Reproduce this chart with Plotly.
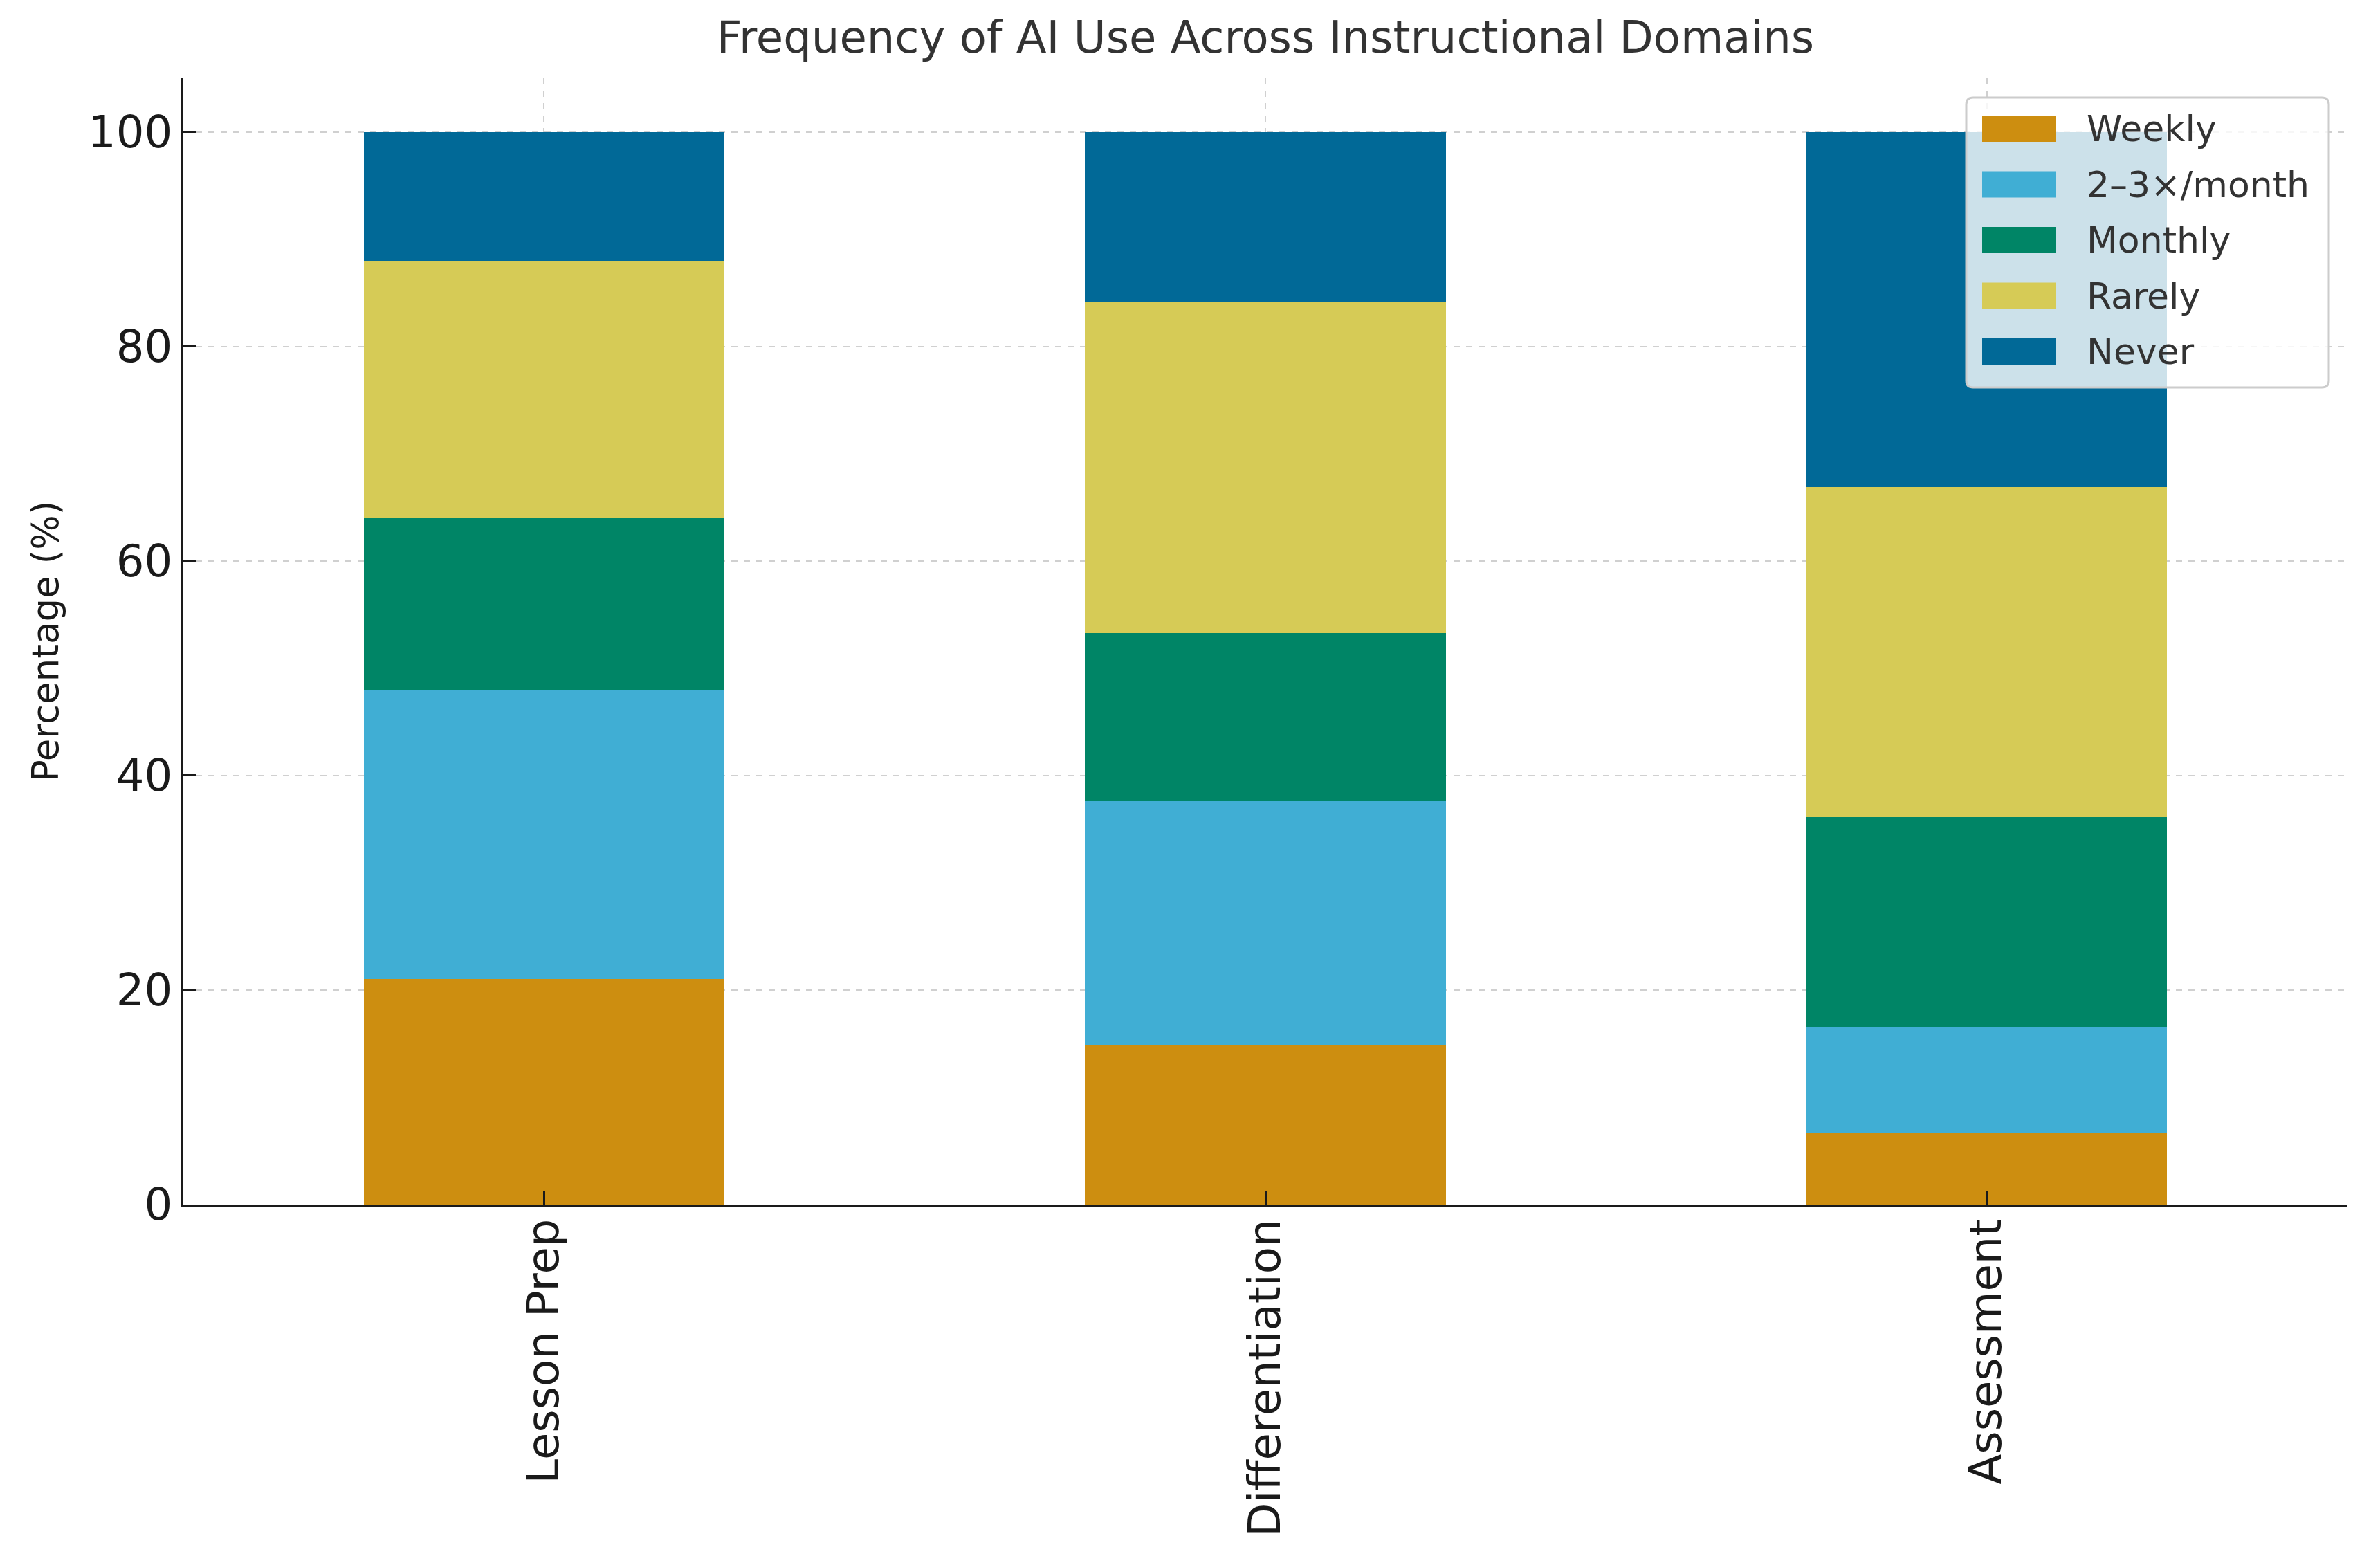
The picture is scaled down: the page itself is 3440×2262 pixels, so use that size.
import plotly.graph_objects as go

# ---- data ----
categories = ["Lesson Prep", "Differentiation", "Assessment"]
series_names = ["Weekly", "2–3×/month", "Monthly", "Rarely", "Never"]
weekly = [21.0, 14.9, 6.7]
two_three_month = [27.0, 22.7, 9.9]
monthly = [16.0, 15.7, 19.5]
rarely = [24.0, 30.9, 30.8]
never = [12.0, 15.8, 33.1]
y_ticks = [0, 20, 40, 60, 80, 100]

series_values = [weekly, two_three_month, monthly, rarely, never]
colors = ["#CD8E10", "#40AED4", "#008566", "#D6CB56", "#016997"]

W, H = 3440, 2262
L, R, T, B = 257, 55, 105, 529
pw, ph = W - L - R, H - T - B
FONT = "DejaVu Sans"

fig = go.Figure()
for name, vals, col in zip(series_names, series_values, colors):
    fig.add_trace(go.Bar(
        x=categories, y=vals, name=name,
        marker=dict(color=col, line=dict(width=0)),
        showlegend=False,
    ))

grid_col = "rgba(170,170,170,0.55)"
axis_common = dict(
    showline=True, linecolor="#1a1a1a", linewidth=3,
    ticks="inside", ticklen=19, tickwidth=3, tickcolor="#1a1a1a",
    showgrid=True, gridcolor=grid_col, gridwidth=2, griddash="dash",
    layer="above traces", zeroline=False, mirror=False,
)

fig.update_layout(
    width=W, height=H,
    margin=dict(l=L, r=R, t=T, b=B, pad=0),
    barmode="stack", bargap=0.5,
    plot_bgcolor="white", paper_bgcolor="white",
    font=dict(family=FONT, color="#1a1a1a"),
    title=dict(
        text="Frequency of AI Use Across Instructional Domains",
        font=dict(family=FONT, size=64, color="#333333"),
        x=0.5, xanchor="center", xref="paper",
        y=1 - 46 / H, yanchor="middle", yref="container",
    ),
    xaxis=dict(
        type="category", range=[-0.5, 2.5], tickangle=-90,
        tickfont=dict(family=FONT, size=64, color="#1a1a1a"),
        ticklabelstandoff=-8,
        **axis_common,
    ),
    yaxis=dict(
        range=[0, 105], tickvals=y_ticks, ticktext=[str(v) for v in y_ticks],
        tickfont=dict(family=FONT, size=64, color="#1a1a1a"),
        title=dict(text="Percentage (%)", font=dict(family=FONT, size=53, color="#1a1a1a"), standoff=26),
        **axis_common,
    ),
)

# ---- custom legend (matplotlib-style wide swatches) ----
def px_x(px):
    return (px - L) / pw

def px_y(py):
    return (H - B - py) / ph

fx0, fx1, fy0, fy1, rad = 2834, 3358, 133, 552, 10
path = (
    f"M {px_x(fx0 + rad)},{px_y(fy0)} L {px_x(fx1 - rad)},{px_y(fy0)} "
    f"Q {px_x(fx1)},{px_y(fy0)} {px_x(fx1)},{px_y(fy0 + rad)} "
    f"L {px_x(fx1)},{px_y(fy1 - rad)} Q {px_x(fx1)},{px_y(fy1)} {px_x(fx1 - rad)},{px_y(fy1)} "
    f"L {px_x(fx0 + rad)},{px_y(fy1)} Q {px_x(fx0)},{px_y(fy1)} {px_x(fx0)},{px_y(fy1 - rad)} "
    f"L {px_x(fx0)},{px_y(fy0 + rad)} Q {px_x(fx0)},{px_y(fy0)} {px_x(fx0 + rad)},{px_y(fy0)} Z"
)
fig.add_shape(type="path", path=path, xref="paper", yref="paper",
              fillcolor="rgba(255,255,255,0.8)", line=dict(color="rgba(204,204,204,1)", width=3),
              layer="above")

row0, row_step = 178, 80.5
for i, (name, col) in enumerate(zip(series_names, colors)):
    cy = row0 + i * row_step
    fig.add_shape(type="rect", xref="paper", yref="paper",
                  x0=px_x(2857), x1=px_x(2964), y0=px_y(cy - 19), y1=px_y(cy + 19),
                  fillcolor=col, line=dict(width=0), layer="above")
    fig.add_annotation(text=name, xref="paper", yref="paper",
                       x=px_x(3006), y=px_y(cy), xanchor="left", yanchor="middle",
                       showarrow=False, font=dict(family=FONT, size=52, color="#333333"))

fig.write_html("out.html")
